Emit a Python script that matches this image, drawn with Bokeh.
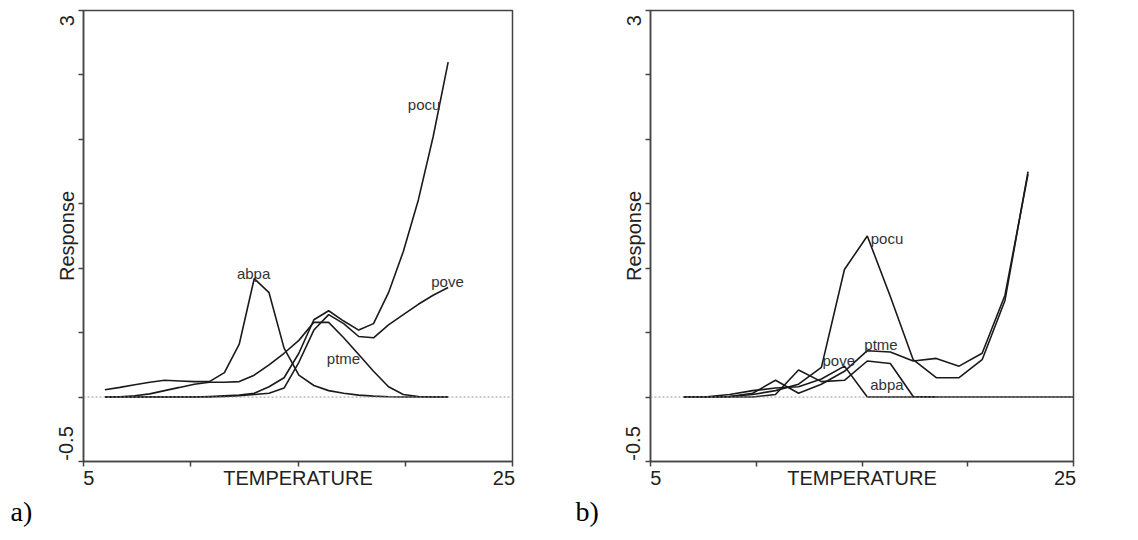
from bokeh.plotting import figure
from bokeh.models import Range1d, FixedTicker, Span, Label, Title
from bokeh.layouts import row
from bokeh.embed import file_html
from bokeh.resources import INLINE

FONT = "Liberation Sans"

# ---------------- data ----------------
species = ["abpa", "pocu", "pove", "ptme"]

# panel a)
temp_a = [6.00, 6.70, 7.39, 8.09, 8.78, 9.48, 10.17, 10.87, 11.57, 12.26, 12.96, 13.65,
          14.35, 15.04, 15.74, 16.43, 17.13, 17.83, 18.52, 19.22, 19.91, 20.61, 21.30, 22.00]
abpa_a = [0.057, 0.075, 0.095, 0.115, 0.13, 0.125, 0.12, 0.12, 0.19, 0.41, 0.92, 0.81,
          0.38, 0.17, 0.09, 0.05, 0.03, 0.015, 0.007, 0.003, 0.001, 0.0, 0.0, 0.0]
pocu_a = [0.0, 0.0, 0.0, 0.0, 0.0, 0.0, 0.0, 0.005, 0.01, 0.015, 0.03, 0.08,
          0.15, 0.34, 0.60, 0.67, 0.59, 0.52, 0.57, 0.81, 1.13, 1.53, 2.02, 2.60]
pove_a = [0.0, 0.0, 0.0, 0.0, 0.0, 0.0, 0.0, 0.0, 0.005, 0.01, 0.02, 0.03,
          0.07, 0.27, 0.52, 0.64, 0.57, 0.47, 0.46, 0.56, 0.64, 0.72, 0.79, 0.85]
ptme_a = [0.0, 0.003, 0.01, 0.025, 0.05, 0.075, 0.10, 0.115, 0.115, 0.12, 0.17, 0.25,
          0.34, 0.44, 0.58, 0.58, 0.46, 0.33, 0.20, 0.08, 0.02, 0.005, 0.0, 0.0]

# panel b)
nan = float("nan")
temp_b = [6.57, 7.66, 8.74, 9.83, 10.91, 12.00, 13.08, 14.17, 15.25, 16.34, 17.42,
          18.51, 19.59, 20.68, 21.76, 22.85, 25.0]
abpa_b = [0.0, 0.0, 0.0, 0.0, 0.02, 0.21, 0.12, 0.13, 0.28, 0.26, 0.005,
          0.0, nan, nan, nan, nan, nan]
pocu_b = [0.0, 0.0, 0.005, 0.02, 0.05, 0.10, 0.23, 0.99, 1.25, 0.78, 0.29,
          0.15, 0.15, 0.29, 0.75, 1.75, nan]
pove_b = [0.0, 0.003, 0.02, 0.05, 0.07, 0.08, 0.14, 0.24, 0.0, 0.0, 0.0,
          0.0, 0.0, 0.0, 0.0, 0.0, 0.0]
ptme_b = [0.0, 0.0, 0.005, 0.03, 0.13, 0.03, 0.10, 0.20, 0.36, 0.35, 0.28,
          0.30, 0.24, 0.34, 0.79, 1.73, nan]

# tick marks
x_ticks = [5, 10, 15, 20, 25]
y_ticks = [-0.5, 0, 0.5, 1, 1.5, 2, 2.5, 3]
# tick texts and where they sit (pulled inward as in the reference)
x_tick_labels = {5.25: "5", 15: "TEMPERATURE", 24.6: "25"}
y_tick_labels = {-0.36: "-0.5", 1.25: "Response", 2.92: "3"}

# curve label anchors (text, x, y) – positions only
labels_a = [("pocu", 20.88, 2.27), ("pove", 21.97, 0.90), ("abpa", 12.93, 0.96), ("ptme", 17.12, 0.30)]
labels_b = [("pocu", 16.18, 1.23), ("ptme", 15.90, 0.41), ("pove", 13.90, 0.28), ("abpa", 16.18, 0.10)]


def panel(width, bl, br, temps, series, labels, tag, tag_off):
    p = figure(width=width, height=535, output_backend="svg", toolbar_location=None,
               x_range=Range1d(5, 25), y_range=Range1d(-0.5, 3),
               min_border_left=bl, min_border_right=br, min_border_top=10, min_border_bottom=74)
    p.xgrid.visible = False
    p.ygrid.visible = False
    p.outline_line_color = "#444444"
    p.outline_line_width = 1.5
    p.background_fill_color = "white"
    p.border_fill_color = "white"

    for ax, ticks, lab, sto in ((p.xaxis[0], x_ticks, x_tick_labels, 0),
                                (p.yaxis[0], y_ticks, y_tick_labels, 1)):
        ax.ticker = FixedTicker(ticks=list(lab.keys()), minor_ticks=ticks)
        ax.major_label_overrides = lab
        ax.major_tick_out = 0
        ax.major_tick_in = 0
        ax.major_tick_line_color = None
        ax.minor_tick_out = 5
        ax.minor_tick_in = 0
        ax.minor_tick_line_color = "#444444"
        ax.minor_tick_line_width = 1.5
        ax.axis_line_color = "#444444"
        ax.axis_line_width = 1.5
        ax.major_label_text_font = FONT
        ax.major_label_text_font_size = "20px"
        ax.major_label_text_color = "#222222"
        ax.major_label_standoff = sto
    p.yaxis[0].major_label_orientation = "vertical"

    p.add_layout(Span(location=0, dimension="width", line_color="#999999",
                      line_dash="2 2", line_width=1), "center")

    for ys in series:
        p.line(temps, ys, line_color="#1a1a1a", line_width=1.6)

    for txt, lx, ly in labels:
        p.add_layout(Label(x=lx, y=ly, text=txt, text_font=FONT, text_font_size="15px",
                           text_color="#333333", text_align="center", text_baseline="middle"))

    p.add_layout(Title(text=tag, align="left", offset=tag_off, text_font="Liberation Serif",
                       text_font_size="28px", text_font_style="normal", text_color="black",
                       standoff=5), "below")
    return p


pa = panel(568, 83, 56, temp_a, [abpa_a, pocu_a, pove_a, ptme_a], labels_a, "a)", -73)
pb = panel(562, 82, 57, temp_b, [abpa_b, pocu_b, pove_b, ptme_b], labels_b, "b)", -75)

layout = row(pa, pb)
open("out.html", "w").write(file_html(layout, INLINE))
